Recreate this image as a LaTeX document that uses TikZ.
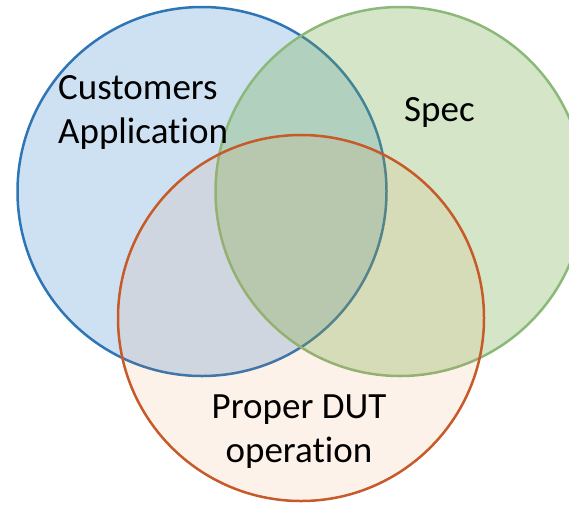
\documentclass[tikz,border=0pt]{standalone}
\usepackage{fontspec}
\setmainfont{Carlito}[Ligatures={NoCommon}]
\definecolor{appfill}{HTML}{5B9BD5}
\definecolor{appline}{HTML}{2E75B6}
\definecolor{specfill}{HTML}{70AD47}
\definecolor{specline}{HTML}{8CB87A}
\definecolor{dutfill}{HTML}{ED7D31}
\definecolor{dutline}{HTML}{C65A28}

\begin{document}
\begin{tikzpicture}[x=1pt,y=-1pt]
\tikzset{
set/.style={circle, draw, line width=2.5pt, inner sep=0pt, outer sep=0pt}, % one circle of the diagram
settext/.style={font=\fontsize{37}{44}\selectfont, inner sep=0pt}, % the name of a set
}
	\useasboundingbox (0,0) rectangle (569,504);
	\clip (0,0) rectangle (569,504);
	\node[set, minimum size=369pt, draw=appline, fill=appfill, fill opacity=0.3] (app) at (202,191.5) {};
	\node[set, minimum size=369pt, draw=specline, fill=specfill, fill opacity=0.3] (spec) at (400,191.5) {};
	\node[set, minimum size=366pt, draw=dutline, fill=dutfill, fill opacity=0.1] (dut) at (301,318) {};
	
	% base of a two-line node is the last line
	\node[settext, anchor=base west, align=left] (apptext) at (58,143) {Customers\\Application};
	\node[settext, anchor=base west] (spectext) at (404,121) {Spec};
	\node[settext, anchor=base, align=center] (duttext) at (299,462) {Proper DUT\\operation};
\end{tikzpicture}
\end{document}
